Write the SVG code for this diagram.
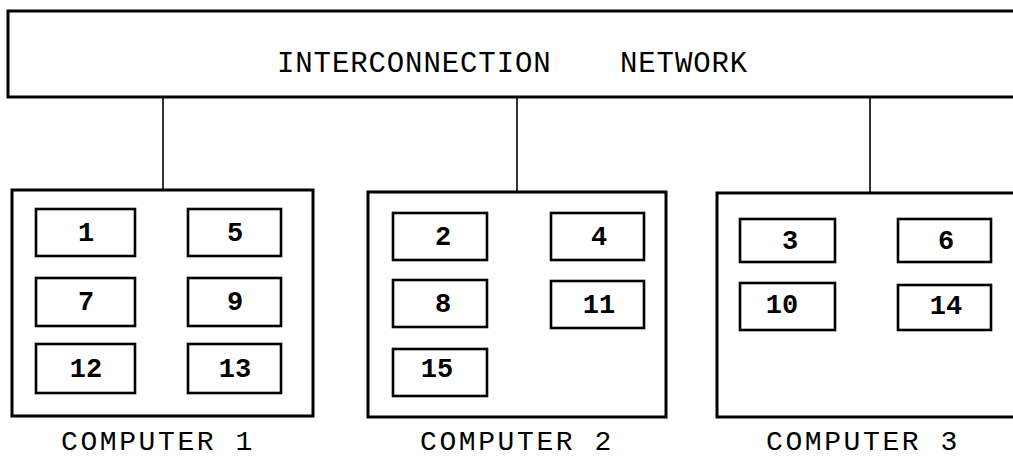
<svg xmlns="http://www.w3.org/2000/svg" width="1013" height="461" viewBox="0 0 1013 461">
  <style>
    .frame { fill: #fff; stroke: #000; stroke-width: 3; }
    .task { fill: #fff; stroke: #000; stroke-width: 2.6; }
    .link { stroke: #000; stroke-width: 1.6; fill: none; }
    .num { font-family: "Liberation Mono", "Courier New", monospace; font-size: 27px; font-weight: bold; fill: #000; text-anchor: middle; }
    .cap { font-family: "Liberation Mono", "Courier New", monospace; font-size: 28px; letter-spacing: 2.6px; fill: #000; }
    .net { font-family: "Liberation Mono", "Courier New", monospace; font-size: 29px; letter-spacing: 0.9px; fill: #000; }
  </style>
  <rect width="1013" height="461" fill="#fff"/>

  <!-- links from the network bus down to each computer -->
  <g id="connectors">
    <line class="link" x1="163" y1="98" x2="163" y2="190"/>
    <line class="link" x1="517" y1="98" x2="517" y2="192"/>
    <line class="link" x1="870" y1="98" x2="870" y2="193"/>
  </g>

  <g id="network">
    <rect class="frame" x="8" y="11" width="1020" height="86"/>
    <text class="net" y="72"><tspan x="277">INTERCONNECTION</tspan><tspan x="620">NETWORK</tspan></text>
  </g>

  <g id="computer1">
    <rect class="frame" x="12" y="190" width="301" height="226"/>
    <g id="t1"><rect class="task" x="36" y="209" width="99" height="47"/><text class="num" x="86" y="241">1</text></g>
    <g id="t5"><rect class="task" x="188" y="209" width="93" height="47"/><text class="num" x="235" y="241">5</text></g>
    <g id="t7"><rect class="task" x="36" y="278" width="99" height="48"/><text class="num" x="86" y="310">7</text></g>
    <g id="t9"><rect class="task" x="188" y="278" width="93" height="48"/><text class="num" x="235" y="310">9</text></g>
    <g id="t12"><rect class="task" x="36" y="344" width="99" height="49"/><text class="num" x="86" y="377">12</text></g>
    <g id="t13"><rect class="task" x="188" y="344" width="93" height="49"/><text class="num" x="235" y="377">13</text></g>
    <text class="cap" x="61" y="450">COMPUTER 1</text>
  </g>

  <g id="computer2">
    <rect class="frame" x="368" y="192" width="298" height="225"/>
    <g id="t2"><rect class="task" x="393" y="213" width="94" height="47"/><text class="num" x="443" y="245">2</text></g>
    <g id="t4"><rect class="task" x="551" y="213" width="93" height="47"/><text class="num" x="599" y="245">4</text></g>
    <g id="t8"><rect class="task" x="393" y="280" width="94" height="47"/><text class="num" x="443" y="312">8</text></g>
    <g id="t11"><rect class="task" x="551" y="281" width="93" height="47"/><text class="num" x="599" y="313">11</text></g>
    <g id="t15"><rect class="task" x="393" y="349" width="94" height="47"/><text class="num" x="437" y="377">15</text></g>
    <text class="cap" x="420" y="450">COMPUTER 2</text>
  </g>

  <g id="computer3">
    <rect class="frame" x="717" y="193" width="310" height="224"/>
    <g id="t3"><rect class="task" x="740" y="219" width="95" height="43"/><text class="num" x="790" y="249">3</text></g>
    <g id="t6"><rect class="task" x="898" y="219" width="93" height="43"/><text class="num" x="946" y="249">6</text></g>
    <g id="t10"><rect class="task" x="740" y="283" width="95" height="47"/><text class="num" x="782" y="313">10</text></g>
    <g id="t14"><rect class="task" x="898" y="285" width="93" height="45"/><text class="num" x="946" y="314">14</text></g>
    <text class="cap" x="766" y="450">COMPUTER 3</text>
  </g>
</svg>
